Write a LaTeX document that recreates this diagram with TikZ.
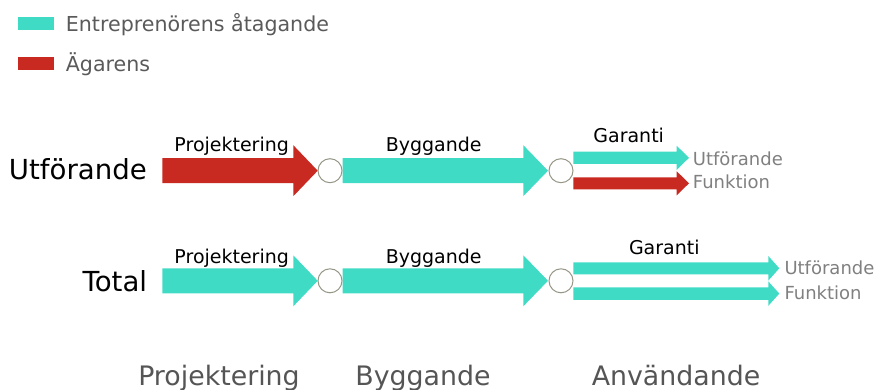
\documentclass[tikz,border=0pt]{standalone}
\usepackage{fontspec}
\setmainfont{DejaVu Sans}
\definecolor{cyanA}{RGB}{64,219,196}
\definecolor{redA}{RGB}{200,41,33}
\definecolor{grayL}{RGB}{128,128,128}
\definecolor{grayT}{RGB}{90,90,90}
\definecolor{grayB}{RGB}{85,85,85}
\definecolor{ringC}{RGB}{150,150,135}
\newcommand{\blockarr}[8]{% x1, headbase, tip, yc, shafthalf, headhalf, color, name
  \fill[#7] (#1,#4-#5) -- (#2,#4-#5) -- (#2,#4-#6) -- (#3,#4) -- (#2,#4+#6) -- (#2,#4+#5) -- (#1,#4+#5) -- cycle;
  \coordinate (#8) at (#3,#4);}
\begin{document}
\begin{tikzpicture}[x=1pt,y=-1pt,
  lbl/.style={font=\fontsize{19}{19}\selectfont, anchor=base, inner sep=0pt},
  sub/.style={font=\fontsize{18}{18}\selectfont, text=grayL, anchor=base west, inner sep=0pt},
  rowlbl/.style={font=\fontsize{27.6}{27.6}\selectfont, anchor=base east, inner sep=0pt},
  phase/.style={font=\fontsize{26.8}{26.8}\selectfont, text=grayB, anchor=base, inner sep=0pt},
  leg/.style={font=\fontsize{20.6}{20.6}\selectfont, text=grayT, anchor=base west, inner sep=0pt},
  ring/.style={circle, draw=ringC, fill=white, line width=1pt, minimum size=24pt, inner sep=0pt}]
\useasboundingbox (0,0) rectangle (877,390);
% legend
\fill[cyanA] (18,16.7) rectangle (54,30);
\fill[redA] (18,56.7) rectangle (54,70);
\node[leg] (legA) at (65.7,31.7) {Entreprenörens åtagande};
\node[leg] (legB) at (65.7,71.7) {Ägarens};
% row 1
\node[rowlbl] (r1) at (147,179.3) {Utförande};
\blockarr{162.3}{293.3}{317.7}{170.7}{12.5}{25.5}{redA}{a1}
\blockarr{342.7}{523.3}{548}{170.7}{12.5}{25.5}{cyanA}{b1}
\node[ring] (c11) at (330,170.7) {};
\node[ring] (c12) at (561,170.7) {};
\blockarr{573.3}{676.7}{689}{157.8}{6.2}{12}{cyanA}{g1u}
\blockarr{573.3}{676.7}{689}{183.3}{6}{12}{redA}{g1f}
\node[lbl] (p1) at (231.7,152) {Projektering};
\node[lbl] (by1) at (433.7,152) {Byggande};
\node[lbl] (ga1) at (628.7,142.7) {Garanti};
\node[sub] (u1) at (692.7,165) {Utförande};
\node[sub] (f1) at (692.7,189) {Funktion};
% row 2
\node[rowlbl] (r2) at (147.3,291) {Total};
\blockarr{162.3}{293.3}{317.7}{280.8}{12.5}{25.5}{cyanA}{a2}
\blockarr{342.7}{523.3}{548}{280.8}{12.5}{25.5}{cyanA}{b2}
\node[ring] (c21) at (330,280.8) {};
\node[ring] (c22) at (561,280.8) {};
\blockarr{573.3}{768.3}{779.3}{268.3}{6}{12.3}{cyanA}{g2u}
\blockarr{573.3}{768.3}{779.3}{293.6}{6.3}{12.2}{cyanA}{g2f}
\node[lbl] (p2) at (231.7,263) {Projektering};
\node[lbl] (by2) at (433.7,263) {Byggande};
\node[lbl] (ga2) at (664.3,254.3) {Garanti};
\node[sub] (u2) at (784.3,274.3) {Utförande};
\node[sub] (f2) at (784.3,299.3) {Funktion};
% phases
\node[phase] (ph1) at (219,385) {Projektering};
\node[phase] (ph2) at (423,385) {Byggande};
\node[phase] (ph3) at (676,385) {Användande};
\end{tikzpicture}
\end{document}
